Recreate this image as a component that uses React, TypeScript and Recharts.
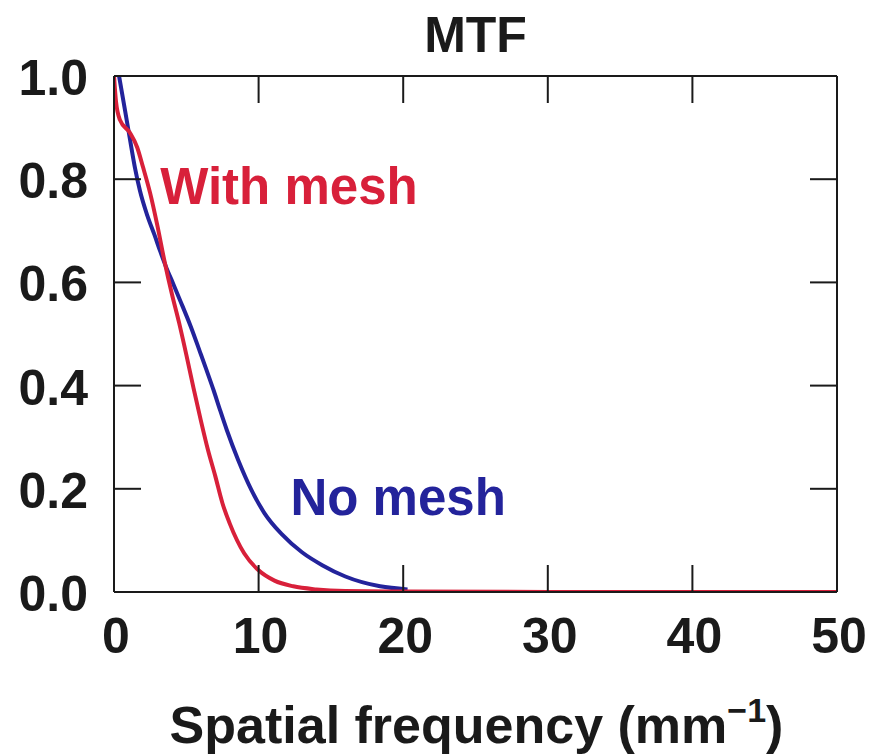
import React from 'react';
import { LineChart, Line, XAxis, YAxis, ReferenceDot, Label } from 'recharts';

const withMeshX = [0, 0.14, 0.41, 1.1, 1.6, 2.0, 2.5, 3.0, 3.5, 4.0, 4.5, 5.0, 5.5, 6.0, 6.5, 7.0, 7.5, 8.0, 9.0, 10.0, 11.1, 12.4, 14, 16, 20, 30, 50];
const withMeshY = [1.0, 0.95, 0.915, 0.89, 0.862, 0.824, 0.773, 0.71, 0.64, 0.578, 0.522, 0.46, 0.395, 0.333, 0.275, 0.225, 0.172, 0.133, 0.075, 0.042, 0.022, 0.011, 0.005, 0.002, 0.001, 0, 0];

const noMeshX = [0.35, 0.76, 1.1, 1.45, 1.8, 2.3, 2.8, 3.2, 3.6, 4.1, 4.56, 5.3, 5.95, 6.4, 6.9, 7.33, 7.8, 8.6, 9.5, 10.4, 11.6, 13.0, 14.4, 16.0, 18.4, 20.3];
const noMeshY = [1.0, 0.934, 0.878, 0.822, 0.777, 0.73, 0.692, 0.66, 0.63, 0.597, 0.566, 0.515, 0.465, 0.43, 0.39, 0.353, 0.314, 0.255, 0.198, 0.153, 0.112, 0.077, 0.052, 0.03, 0.011, 0.005];

const xTicks = [0, 10, 20, 30, 40, 50];
const yTicks = [0, 0.2, 0.4, 0.6, 0.8, 1.0];

const annotations = [
  { text: 'With mesh', x: 3.2, y: 0.785, series: 'with' },
  { text: 'No mesh', x: 12.2, y: 0.184, series: 'no' },
];

const RED = '#d8203a';
const BLUE = '#23239b';
const INK = '#1a1a1a';
const FONT = '"Liberation Sans", Arial, Helvetica, sans-serif';
const FS = 50;
const TICK_LEN = 27;

const withMesh = withMeshX.map((x, i) => ({ x, y: withMeshY[i] }));
const noMesh = noMeshX.map((x, i) => ({ x, y: noMeshY[i] }));

const BOTTOM_MARGIN = 44;
const LEFT_MARGIN = 26;

const BottomTick = (props: any) => {
  const { x, y, payload } = props;
  const axisY = y - BOTTOM_MARGIN;
  return (
    <g>
      <line x1={x} x2={x} y1={axisY} y2={axisY - TICK_LEN} stroke={INK} strokeWidth={2} />
      <text x={x + 2} y={y} textAnchor="middle" dominantBaseline="central" fontFamily={FONT} fontWeight="bold" fontSize={FS} fill={INK}>
        {payload.value}
      </text>
    </g>
  );
};

const LeftTick = (props: any) => {
  const { x, y, payload } = props;
  const axisX = x + LEFT_MARGIN;
  return (
    <g>
      <line x1={axisX} x2={axisX + TICK_LEN} y1={y} y2={y} stroke={INK} strokeWidth={2} />
      <text x={x} y={y + 2} textAnchor="end" dominantBaseline="central" fontFamily={FONT} fontWeight="bold" fontSize={FS} fill={INK}>
        {Number(payload.value).toFixed(1)}
      </text>
    </g>
  );
};

const TopTick = (props: any) => {
  const { x, y } = props;
  return <line x1={x} x2={x} y1={y} y2={y + TICK_LEN} stroke={INK} strokeWidth={2} />;
};

const RightTick = (props: any) => {
  const { x, y } = props;
  return <line x1={x} x2={x - TICK_LEN} y1={y} y2={y} stroke={INK} strokeWidth={2} />;
};

const XTitle = (props: any) => {
  const vb = props.viewBox || {};
  return (
    <text x={vb.x + vb.width / 2 + 1} y={vb.y + 151} textAnchor="middle" fontFamily={FONT} fontWeight="bold" fontSize={52} fill={INK}>
      <tspan>Spatial frequency (mm</tspan>
      <tspan dy={-21} fontSize={34}>−1</tspan>
      <tspan dy={21}>)</tspan>
    </text>
  );
};

const Title = (props: any) => {
  const vb = props.viewBox || {};
  return (
    <text x={vb.x + vb.width / 2} y={52} textAnchor="middle" fontFamily={FONT} fontWeight="bold" fontSize={FS} fill={INK}>
      MTF
    </text>
  );
};

const AnnoLabel = (props: any) => {
  const vb = props.viewBox || {};
  const cx = vb.cx !== undefined ? vb.cx : vb.x + (vb.width || 0) / 2;
  const cy = vb.cy !== undefined ? vb.cy : vb.y + (vb.height || 0) / 2;
  return (
    <text x={cx} y={cy} dominantBaseline="central" fontFamily={FONT} fontWeight="bold" fontSize={51} fill={props.color}>
      {props.text}
    </text>
  );
};

export default function App() {
  const axisLine = { stroke: INK, strokeWidth: 2 };
  return (
    <div style={{ position: 'absolute', left: 0, top: 0, width: 881, height: 755, background: '#fff' }}>
      <LineChart width={881} height={755} margin={{ top: 75, right: 43, bottom: 0, left: 0 }}>
        <XAxis
          xAxisId="b"
          type="number"
          dataKey="x"
          domain={[0, 50]}
          ticks={xTicks}
          orientation="bottom"
          height={163}
          axisLine={axisLine}
          tickLine={false}
          tickSize={0}
          tickMargin={BOTTOM_MARGIN}
          tick={<BottomTick />}
          interval={0}
          allowDataOverflow
        >
          <Label content={<XTitle />} />
        </XAxis>
        <XAxis
          xAxisId="t"
          type="number"
          dataKey="x"
          domain={[0, 50]}
          ticks={xTicks}
          orientation="top"
          height={1}
          axisLine={axisLine}
          tickLine={false}
          tickSize={0}
          tickMargin={0}
          tick={<TopTick />}
          interval={0}
          allowDataOverflow
        >
          <Label content={<Title />} />
        </XAxis>
        <YAxis
          yAxisId="l"
          type="number"
          domain={[0, 1]}
          ticks={yTicks}
          orientation="left"
          width={114}
          axisLine={axisLine}
          tickLine={false}
          tickSize={0}
          tickMargin={LEFT_MARGIN}
          tick={<LeftTick />}
          interval={0}
          allowDataOverflow
        />
        <YAxis
          yAxisId="r"
          type="number"
          domain={[0, 1]}
          ticks={yTicks}
          orientation="right"
          width={1}
          axisLine={axisLine}
          tickLine={false}
          tickSize={0}
          tickMargin={0}
          tick={<RightTick />}
          interval={0}
          allowDataOverflow
        />
        <Line
          xAxisId="t"
          yAxisId="r"
          data={noMesh}
          dataKey="y"
          type="monotone"
          stroke={BLUE}
          strokeWidth={4}
          dot={false}
          isAnimationActive={false}
        />
        <Line
          xAxisId="b"
          yAxisId="l"
          data={withMesh}
          dataKey="y"
          type="monotone"
          stroke={RED}
          strokeWidth={4}
          dot={false}
          isAnimationActive={false}
        />
        {annotations.map((a) => (
          <ReferenceDot
            key={a.text}
            xAxisId="b"
            yAxisId="l"
            x={a.x}
            y={a.y}
            r={0}
            fill="none"
            stroke="none"
            ifOverflow="visible"
            label={<AnnoLabel text={a.text} color={a.series === 'with' ? RED : BLUE} />}
          />
        ))}
      </LineChart>
    </div>
  );
}
